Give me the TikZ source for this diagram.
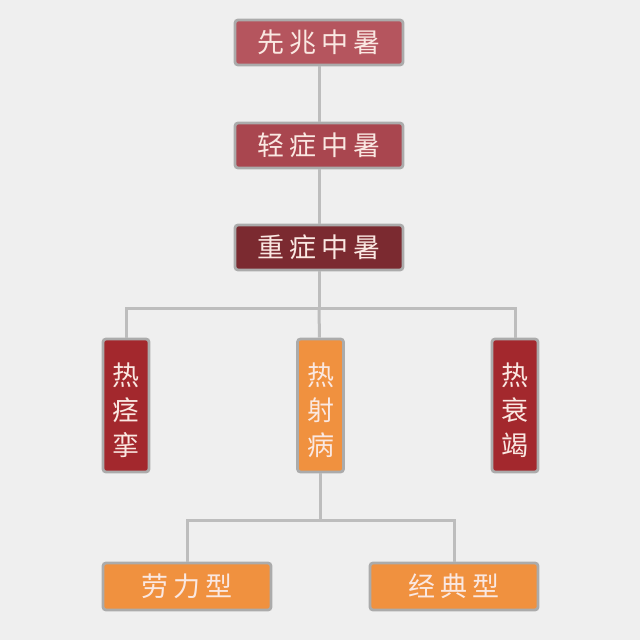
\documentclass[tikz,border=0pt]{standalone}
\usepackage{fontspec}
\newfontfamily\cjk{Noto Sans CJK SC}
\definecolor{bgc}{HTML}{EFEFEF}
\definecolor{linec}{HTML}{BDBDBD}
\definecolor{bordc}{HTML}{ABABAB}
\definecolor{cA}{HTML}{B5555E}
\definecolor{cB}{HTML}{A9464F}
\definecolor{cC}{HTML}{7B2A30}
\definecolor{cR}{HTML}{A3282D}
\definecolor{cO}{HTML}{F0913F}
\definecolor{txtc}{HTML}{FAE8E2}
\newcommand{\gapc}{\hspace{2.5pt}}
\newcommand{\vstack}[3]{\raisebox{-7.5pt}[0pt][0pt]{\begin{tabular}{@{}c@{}}#1\\#2\\#3\end{tabular}}}
\begin{document}
\begin{tikzpicture}[x=0.5pt,y=-0.5pt,
  box/.style={draw=bordc,line width=1.4pt,rounded corners=1.5pt,inner sep=0pt,
    text=txtc,font=\cjk\fontsize{13.5}{17.5}\selectfont,align=center},
  hbox/.style={box,minimum width=84pt,minimum height=22.5pt},
  vbox/.style={box,minimum width=23pt,minimum height=66.5pt},
  conn/.style={draw=linec,line width=1.5pt}]
\fill[bgc] (0,0) rectangle (640,640);
\useasboundingbox (0,0) rectangle (640,640);
\coordinate (j1) at (319,308);
\coordinate (j2) at (320.5,520);
\node[hbox,fill=cA] (b1) at (319,42.5) {先\gapc 兆\gapc 中\gapc 暑};
\node[hbox,fill=cB] (b2) at (319,145.5) {轻\gapc 症\gapc 中\gapc 暑};
\node[hbox,fill=cC] (b3) at (319,247.5) {重\gapc 症\gapc 中\gapc 暑};
\node[vbox,fill=cR] (v1) at (126,405.5) {\vstack{热}{痉}{挛}};
\node[vbox,fill=cO] (v2) at (320.5,405.5) {\vstack{热}{射}{病}};
\node[vbox,fill=cR] (v3) at (515,405.5) {\vstack{热}{衰}{竭}};
\node[hbox,fill=cO,minimum height=23.5pt] (h1) at (187,586.5) {劳\gapc 力\gapc 型};
\node[hbox,fill=cO,minimum height=23.5pt] (h2) at (454,586.5) {经\gapc 典\gapc 型};
\draw[conn] (b1) -- (b2);
\draw[conn] (b2) -- (b3);
\draw[conn] (b3) -- (j1);
\draw[conn] (j1) -| (v1);
\draw[conn] (j1) -| (v3);
\draw[conn] (j1) -- (v2);
\draw[conn] (v2) -- (j2);
\draw[conn] (j2) -| (h1);
\draw[conn] (j2) -| (h2);
\end{tikzpicture}
\end{document}
